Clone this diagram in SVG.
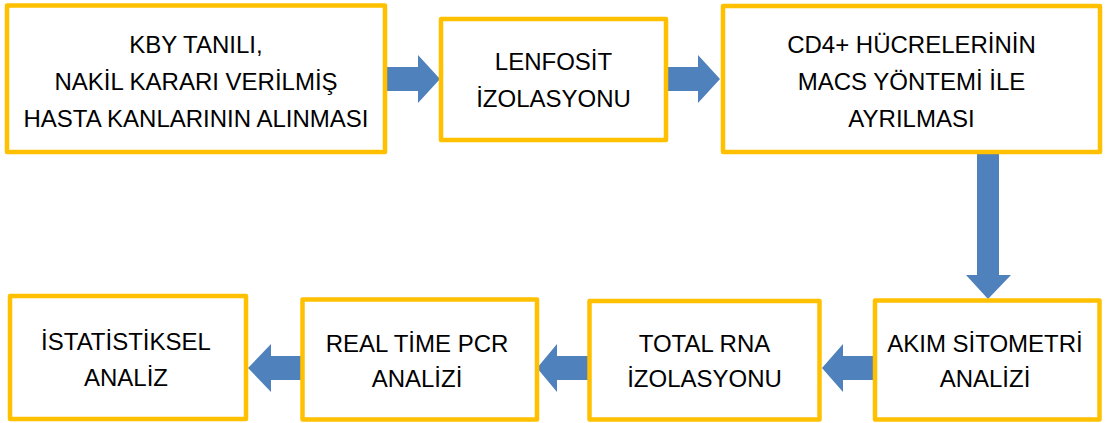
<svg xmlns="http://www.w3.org/2000/svg" width="1105" height="423" viewBox="0 0 1105 423">
<style>
.box{fill:#fff;stroke:#FFC000;stroke-width:4.5;stroke-linejoin:round}
.arr{fill:#4F81BD;stroke:none}
text{font-family:"Liberation Sans",Arial,sans-serif;font-size:24px;fill:#000;text-anchor:middle}
</style>
<rect width="1105" height="423" fill="#fff"/>
<g id="connectors">
<polygon class="arr" points="386,67 418,67 418,55 440,79 418,103 418,91 386,91"/>
<polygon class="arr" points="666,67 698,67 698,55 720,79 698,103 698,91 666,91"/>
<polygon class="arr" points="977,153 999,153 999,275 1011,275 988,299 966,275 977,275"/>
<polygon class="arr" points="876,356 843,356 843,344 822,368 843,392 843,380 876,380"/>
<polygon class="arr" points="588,356 557,356 557,344 537,368 557,392 557,380 588,380"/>
<polygon class="arr" points="302,356 271,356 271,344 248,368 271,392 271,380 302,380"/>
</g>
<g id="n1">
<rect class="box" x="7" y="5.5" width="378" height="146.5"/>
<text x="196" y="53">KBY TANILI,</text>
<text x="196" y="90">NAKİL KARARI VERİLMİŞ</text>
<text x="196" y="127">HASTA KANLARININ ALINMASI</text>
</g>
<g id="n2">
<rect class="box" x="441" y="19" width="225" height="121"/>
<text x="553.5" y="69.5">LENFOSİT</text>
<text x="553.5" y="106.5">İZOLASYONU</text>
</g>
<g id="n3">
<rect class="box" x="723" y="6" width="377" height="146"/>
<text x="911.5" y="53">CD4+ HÜCRELERİNİN</text>
<text x="911.5" y="90">MACS YÖNTEMİ İLE</text>
<text x="911.5" y="127">AYRILMASI</text>
</g>
<g id="n4">
<rect class="box" x="875" y="300.5" width="224.5" height="119"/>
<text x="985" y="352">AKIM SİTOMETRİ</text>
<text x="985" y="387">ANALİZİ</text>
</g>
<g id="n5">
<rect class="box" x="589.5" y="301" width="230" height="118.5"/>
<text x="704.5" y="352">TOTAL RNA</text>
<text x="704.5" y="387">İZOLASYONU</text>
</g>
<g id="n6">
<rect class="box" x="302.5" y="299.5" width="234.5" height="120"/>
<text x="417" y="352">REAL TİME PCR</text>
<text x="417" y="387">ANALİZİ</text>
</g>
<g id="n7">
<rect class="box" x="10" y="296" width="236" height="123"/>
<text x="126" y="350">İSTATİSTİKSEL</text>
<text x="126" y="386">ANALİZ</text>
</g>
</svg>
